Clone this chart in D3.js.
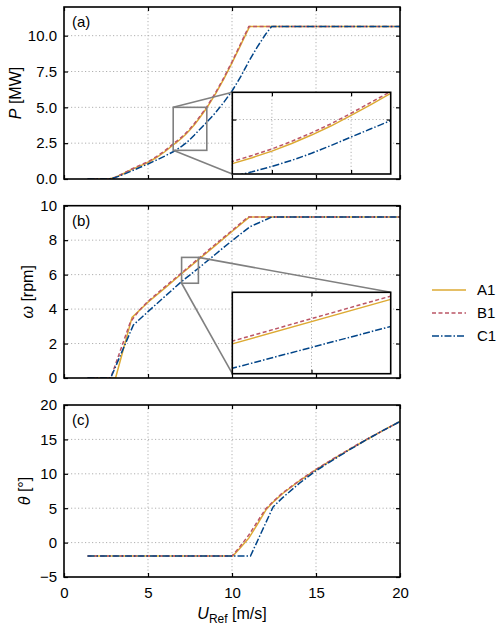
<!DOCTYPE html>
<html>
<head>
<meta charset="utf-8">
<script src="https://cdn.jsdelivr.net/npm/d3@7"></script>
<style>
  body { margin: 0; background: #fff; }
  text { font-family: "Liberation Sans", Arial, sans-serif; fill: #000; }
</style>
</head>
<body>
<div id="chart"></div>
<script>
// series names + colours (A1 solid, B1 dashed, C1 dash-dot)
var seriesNames = ["A1", "B1", "C1"];
var seriesColors = ["#ddaa33", "#bb5566", "#004488"];
var seriesDash = [null, "4,2.5", "7,2,1.5,2"];

// x ticks (U_Ref)
var xTicks = [0, 5, 10, 15, 20];

// (a) power [MW], pairs of [U_Ref, P]
var powerA1 = [[1.4,0],[2.7,0],[3,0.1],[3.5,0.35],[4,0.65],[4.5,0.9],[5,1.15],[5.5,1.5],[6,1.9],[6.5,2.38],[6.75,2.6],[7,2.84],[7.25,3.12],[7.5,3.43],[7.75,3.77],[8,4.15],[8.25,4.55],[8.5,4.96],[9,5.9],[9.5,6.95],[10,8.1],[10.5,9.3],[11.05,10.64],[20,10.64]];
var powerB1 = [[1.4,0],[2.7,0],[3,0.1],[3.5,0.37],[4,0.68],[4.5,0.95],[5,1.2],[5.5,1.56],[6,1.97],[6.5,2.46],[6.75,2.68],[7,2.92],[7.25,3.2],[7.5,3.51],[7.75,3.85],[8,4.23],[8.25,4.63],[8.5,5.03],[9,5.98],[9.5,7.03],[10,8.18],[10.5,9.4],[11.0,10.64],[20,10.64]];
var powerC1 = [[1.4,0],[2.7,0],[3,0.08],[3.5,0.3],[4,0.55],[4.5,0.8],[5,1.05],[5.5,1.32],[6,1.6],[6.5,1.9],[6.75,2.08],[7,2.28],[7.25,2.5],[7.5,2.76],[7.75,3.05],[8,3.36],[8.25,3.66],[8.5,3.96],[9,4.6],[9.5,5.33],[10,6.14],[10.5,7.1],[11,8.2],[11.5,9.2],[12,10.1],[12.36,10.64],[20,10.64]];
var powerTicks = [0, 2.5, 5, 7.5, 10];

// (b) rotor speed [rpm]
var speedA1 = [[1.4,0],[3.07,0],[4.05,3.52],[5,4.4],[6,5.22],[7,6.05],[8,6.87],[9,7.68],[10,8.5],[11.03,9.34],[20,9.34]];
var speedB1 = [[1.4,0],[2.78,0],[3.95,3.25],[4.5,3.95],[5,4.45],[6,5.29],[7,6.1],[8,6.93],[9,7.75],[10,8.56],[10.95,9.34],[20,9.34]];
var speedC1 = [[1.4,0],[2.78,0],[4.13,3.08],[5,3.85],[6,4.73],[7,5.6],[8,6.37],[9,7.17],[10,7.97],[11.07,8.78],[12.36,9.34],[20,9.34]];
var speedTicks = [0, 2, 4, 6, 8, 10];

// (c) pitch [deg]
var pitchA1 = [[1.4,-1.95],[10.05,-1.95],[10.5,-0.75],[11,0.65],[11.5,2.6],[12.05,4.85],[12.5,6.0],[13,7.1],[14,8.95],[15,10.6],[16,12.1],[17,13.55],[18,14.95],[19,16.3],[20,17.6]];
var pitchB1 = [[1.4,-1.95],[10.0,-1.95],[10.5,-0.5],[11,1.1],[11.5,3.0],[12.0,4.9],[12.5,6.1],[13,7.2],[14,9.0],[15,10.65],[16,12.15],[17,13.6],[18,15.0],[19,16.3],[20,17.6]];
var pitchC1 = [[1.4,-1.95],[11.1,-1.95],[12.45,5.2],[13,6.5],[14,8.6],[15,10.45],[16,12.0],[17,13.5],[18,14.95],[19,16.3],[20,17.6]];
var pitchTicks = [-5, 0, 5, 10, 15, 20];

var width = 500, height = 627;
var gridColor = "#b0b0b0", gridDash = "1.2,2.3";

var svg = d3.select("#chart").append("svg")
  .attr("width", width).attr("height", height);

var x = d3.scaleLinear().domain([0, 20]).range([64, 400]);

var panels = [
  { id: "a", top: 7, bottom: 179, domain: [0, 12], ticks: powerTicks, fmt: d3.format(".1f"),
    series: [powerA1, powerB1, powerC1], labelX: 21, sym: "P", unit: " [MW]", showX: false,
    inset: { box: [232.3, 92.3, 390.7, 174], xd: [6.5, 8.5], yd: [2, 5], gx: [7, 8], gy: [4],
             links: [["l", "t"], ["l", "b"]] } },
  { id: "b", top: 205.7, bottom: 378, domain: [0, 10], ticks: speedTicks, fmt: d3.format("d"),
    series: [speedA1, speedB1, speedC1], labelX: 33, sym: "\u03c9", unit: " [rpm]", showX: false,
    inset: { box: [232.3, 292.3, 390.7, 373.7], xd: [7, 8], yd: [5.5, 7], gx: [7.5], gy: [],
             links: [["r", "t"], ["l", "b"]] } },
  { id: "c", top: 405, bottom: 577, domain: [-5, 20], ticks: pitchTicks, fmt: d3.format("d"),
    series: [pitchA1, pitchB1, pitchC1], labelX: 30, sym: "\u03b8", unit: " [\u00b0]", showX: true,
    inset: null }
];

function drawSeries(g, series, sx, sy) {
  var line = d3.line().x(d => sx(d[0])).y(d => sy(d[1]));
  series.forEach(function(data, i) {
    g.append("path")
      .attr("d", line(data))
      .attr("fill", "none")
      .attr("stroke", seriesColors[i])
      .attr("stroke-width", 1.5)
      .attr("stroke-dasharray", seriesDash[i]);
  });
}

panels.forEach(function(p) {
  var y = d3.scaleLinear().domain(p.domain).range([p.bottom, p.top]);
  var g = svg.append("g").attr("class", "panel " + p.id);
  var clipId = "clip-" + p.id;

  svg.append("clipPath").attr("id", clipId).append("rect")
    .attr("x", x.range()[0]).attr("y", p.top)
    .attr("width", x.range()[1] - x.range()[0]).attr("height", p.bottom - p.top);

  // grid
  g.selectAll(".gx").data(xTicks.slice(1, -1)).enter().append("line")
    .attr("x1", d => x(d)).attr("x2", d => x(d))
    .attr("y1", p.top).attr("y2", p.bottom)
    .attr("stroke", gridColor).attr("stroke-dasharray", gridDash);
  g.selectAll(".gy").data(p.ticks.filter(t => t > p.domain[0] && t < p.domain[1])).enter().append("line")
    .attr("y1", d => y(d)).attr("y2", d => y(d))
    .attr("x1", x.range()[0]).attr("x2", x.range()[1])
    .attr("stroke", gridColor).attr("stroke-dasharray", gridDash);

  drawSeries(g.append("g").attr("clip-path", "url(#" + clipId + ")"), p.series, x, y);

  // axes, ticks inward on all sides
  var bottomAxis = d3.axisBottom(x).tickValues(xTicks).tickSizeInner(-4).tickSizeOuter(0).tickPadding(10);
  if (!p.showX) bottomAxis.tickFormat("");
  g.append("g").attr("transform", `translate(0,${p.bottom})`).call(bottomAxis);
  g.append("g").attr("transform", `translate(0,${p.top})`)
    .call(d3.axisTop(x).tickValues(xTicks).tickSizeInner(-4).tickSizeOuter(0).tickFormat(""));
  g.append("g").attr("transform", `translate(${x.range()[0]},0)`)
    .call(d3.axisLeft(y).tickValues(p.ticks).tickSizeInner(-4).tickSizeOuter(0).tickPadding(7).tickFormat(p.fmt));
  g.append("g").attr("transform", `translate(${x.range()[1]},0)`)
    .call(d3.axisRight(y).tickValues(p.ticks).tickSizeInner(-4).tickSizeOuter(0).tickFormat(""));
  g.selectAll(".domain").remove();
  g.selectAll(".tick line").attr("stroke", "#000").attr("stroke-width", 1.2);
  g.selectAll(".tick text").style("font-size", "15px").attr("fill", "#000");

  // frame
  g.append("rect")
    .attr("x", x.range()[0]).attr("y", p.top)
    .attr("width", x.range()[1] - x.range()[0]).attr("height", p.bottom - p.top)
    .attr("fill", "none").attr("stroke", "#000").attr("stroke-width", 1.6);

  // panel letter
  g.append("text")
    .attr("x", x.range()[0] + 8).attr("y", p.top + 20)
    .style("font-size", "15px").text("(" + p.id + ")");

  // y label
  var yl = g.append("text")
    .attr("transform", `translate(${p.labelX},${(p.top + p.bottom) / 2}) rotate(-90)`)
    .attr("text-anchor", "middle").style("font-size", "16px");
  yl.append("tspan").style("font-style", "italic").text(p.sym);
  yl.append("tspan").text(p.unit);

  // zoom inset
  if (p.inset) {
    var ins = p.inset;
    var b = ins.box;
    var ix = d3.scaleLinear().domain(ins.xd).range([b[0], b[2]]);
    var iy = d3.scaleLinear().domain(ins.yd).range([b[3], b[1]]);
    var zr = { l: x(ins.xd[0]), r: x(ins.xd[1]), t: y(ins.yd[1]), b: y(ins.yd[0]) };
    var br = { l: b[0], r: b[2], t: b[1], b: b[3] };

    var ig = g.append("g");
    ig.append("rect")
      .attr("x", zr.l).attr("y", zr.t).attr("width", zr.r - zr.l).attr("height", zr.b - zr.t)
      .attr("fill", "none").attr("stroke", "#808080").attr("stroke-width", 1.6);
    ins.links.forEach(function(k) {
      ig.append("line")
        .attr("x1", zr[k[0]]).attr("y1", zr[k[1]])
        .attr("x2", br[k[0]]).attr("y2", br[k[1]])
        .attr("stroke", "#808080").attr("stroke-width", 1.6);
    });

    ig.append("rect")
      .attr("x", b[0]).attr("y", b[1]).attr("width", b[2] - b[0]).attr("height", b[3] - b[1])
      .attr("fill", "#fff");
    var iclip = "iclip-" + p.id;
    svg.append("clipPath").attr("id", iclip).append("rect")
      .attr("x", b[0]).attr("y", b[1]).attr("width", b[2] - b[0]).attr("height", b[3] - b[1]);

    ig.selectAll(".igx").data(ins.gx).enter().append("line")
      .attr("x1", d => ix(d)).attr("x2", d => ix(d)).attr("y1", b[1]).attr("y2", b[3])
      .attr("stroke", gridColor).attr("stroke-dasharray", gridDash);
    ig.selectAll(".igy").data(ins.gy).enter().append("line")
      .attr("y1", d => iy(d)).attr("y2", d => iy(d)).attr("x1", b[0]).attr("x2", b[2])
      .attr("stroke", gridColor).attr("stroke-dasharray", gridDash);

    drawSeries(ig.append("g").attr("clip-path", "url(#" + iclip + ")"), p.series, ix, iy);

    var ia = ig.append("g");
    ia.append("g").attr("transform", `translate(0,${b[3]})`)
      .call(d3.axisBottom(ix).tickValues(ins.gx).tickSizeInner(-4).tickSizeOuter(0).tickFormat(""));
    ia.append("g").attr("transform", `translate(0,${b[1]})`)
      .call(d3.axisTop(ix).tickValues(ins.gx).tickSizeInner(-4).tickSizeOuter(0).tickFormat(""));
    ia.append("g").attr("transform", `translate(${b[0]},0)`)
      .call(d3.axisLeft(iy).tickValues(ins.gy).tickSizeInner(-4).tickSizeOuter(0).tickFormat(""));
    ia.append("g").attr("transform", `translate(${b[2]},0)`)
      .call(d3.axisRight(iy).tickValues(ins.gy).tickSizeInner(-4).tickSizeOuter(0).tickFormat(""));
    ia.selectAll(".domain").remove();
    ia.selectAll(".tick line").attr("stroke", "#000").attr("stroke-width", 1.2);

    ig.append("rect")
      .attr("x", b[0]).attr("y", b[1]).attr("width", b[2] - b[0]).attr("height", b[3] - b[1])
      .attr("fill", "none").attr("stroke", "#000").attr("stroke-width", 1.6);
  }
});

// x label
var xl = svg.append("text")
  .attr("x", (x.range()[0] + x.range()[1]) / 2).attr("y", 619)
  .attr("text-anchor", "middle").style("font-size", "16px");
xl.append("tspan").style("font-style", "italic").text("U");
xl.append("tspan").attr("dy", 3.5).style("font-size", "12px").text("Ref");
xl.append("tspan").attr("dy", -3.5).text(" [m/s]");

// legend
var legend = svg.append("g").attr("class", "legend");
seriesNames.forEach(function(name, i) {
  var ly = 290 + i * 23;
  legend.append("line")
    .attr("x1", 432).attr("x2", 466).attr("y1", ly).attr("y2", ly)
    .attr("stroke", seriesColors[i]).attr("stroke-width", 1.5)
    .attr("stroke-dasharray", seriesDash[i]);
  legend.append("text")
    .attr("x", 477).attr("y", ly + 5)
    .style("font-size", "15px").text(name);
});
</script>
</body>
</html>
